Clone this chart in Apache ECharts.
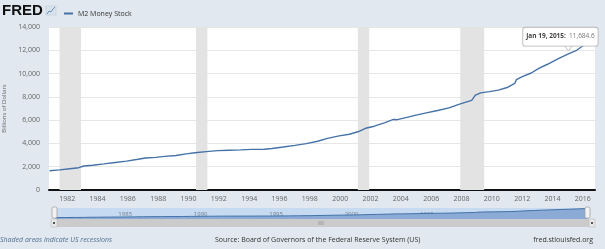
<!DOCTYPE html>
<html>
<head>
<meta charset="utf-8">
<script src="https://cdn.jsdelivr.net/npm/echarts@6/dist/echarts.min.js"></script>
<style>
  html, body { margin: 0; padding: 0; background: #e1e8ef; }
  #chart { width: 605px; height: 249px; }
</style>
</head>
<body>
<div id="chart"></div>
<script>
// M2 money stock, billions of dollars
const dates = [
  '1980-11-03', '1981-07-06', '1982-03-01', '1982-10-04', '1983-02-07', '1983-09-05',
  '1984-06-04', '1985-03-04', '1985-12-02', '1986-09-01', '1987-03-02', '1987-11-02',
  '1988-06-06', '1989-03-06', '1989-11-06', '1990-06-04', '1991-03-04', '1991-12-02',
  '1992-09-07', '1993-06-07', '1994-03-07', '1995-01-02', '1995-07-03', '1996-04-01',
  '1997-01-06', '1997-10-06', '1998-07-06', '1999-03-01', '1999-12-06', '2000-08-07',
  '2001-03-05', '2001-09-03', '2002-04-01', '2002-12-02', '2003-07-07', '2003-10-06',
  '2004-04-05', '2005-01-03', '2005-09-05', '2006-06-05', '2007-03-05', '2007-12-03',
  '2008-09-01', '2008-12-01', '2009-04-06', '2009-11-02', '2010-06-07', '2011-01-03',
  '2011-07-04', '2011-08-15', '2012-01-02', '2012-08-06', '2013-02-04', '2013-09-02',
  '2014-06-02', '2015-01-19', '2015-08-03', '2016-02-01'
]
const values = [
  1655, 1730, 1830, 1915, 2060, 2130,
  2240, 2360, 2480, 2640, 2750, 2800,
  2890, 2960, 3100, 3200, 3300, 3380,
  3420, 3450, 3490, 3500, 3570, 3690,
  3830, 3980, 4190, 4430, 4650, 4790,
  5000, 5300, 5480, 5770, 6060, 6040,
  6200, 6430, 6620, 6830, 7050, 7400,
  7700, 8150, 8340, 8450, 8580, 8800,
  9150, 9480, 9730, 10050, 10450, 10800,
  11300, 11684.6, 12000, 12450
]
const recessions = [
  ['1981-07-01', '1982-11-30'],
  ['1990-07-01', '1991-03-31'],
  ['2001-03-01', '2001-11-30'],
  ['2007-12-01', '2009-06-30']
]
const yearTicks = [1982, 1984, 1986, 1988, 1990, 1992, 1994, 1996, 1998, 2000, 2002, 2004, 2006, 2008, 2010, 2012, 2014, 2016]
const navTicks = [1985, 1990, 1995, 2000, 2005, 2010, 2015]
const tipDate = '2015-01-19'
const tipLabel = 'Jan 19, 2015'

const seriesName = 'M2 Money Stock'
const lineColor = '#4572a7'
const font = 'Open Sans, sans-serif'

function toYear(s) {
  const d = new Date(s + 'T00:00:00Z')
  const y = d.getUTCFullYear()
  const a = Date.UTC(y, 0, 1), b = Date.UTC(y + 1, 0, 1)
  return y + (d.getTime() - a) / (b - a)
}

const points = dates.map((d, i) => [toYear(d), values[i]])
const tipIndex = dates.indexOf(tipDate)

const chart = echarts.init(document.getElementById('chart'), null, { renderer: 'canvas' })

const option = {
  backgroundColor: '#e1e8ef',
  animation: false,
  textStyle: { fontFamily: font },
  legend: {
    data: [seriesName],
    left: 59,
    top: 5,
    itemWidth: 9,
    itemHeight: 2,
    icon: 'rect',
    textStyle: { fontSize: 7, color: '#333', fontFamily: font }
  },
  grid: [
    { left: 49, right: 10, top: 27, bottom: 59, outerBoundsMode: 'none', show: true, backgroundColor: '#fff', borderWidth: 0 },
    { left: 55, right: 16, top: 208, height: 11, outerBoundsMode: 'none', show: true, backgroundColor: '#c6dbf1', borderWidth: 0 }
  ],
  xAxis: [
    {
      type: 'value',
      gridIndex: 0,
      min: 1980.8,
      max: 2016.8,
      axisLine: { show: true, onZero: false, lineStyle: { color: '#111', width: 2 } },
      axisTick: { show: false },
      splitLine: { show: false },
      axisLabel: {
        customValues: yearTicks,
        formatter: v => String(Math.round(v)),
        fontSize: 7,
        color: '#666',
        margin: 5
      }
    },
    {
      type: 'value',
      gridIndex: 1,
      min: 1980.8,
      max: 2016.2,
      axisLine: { show: false },
      axisTick: { show: false },
      splitLine: { show: false },
      axisLabel: {
        customValues: navTicks,
        formatter: v => String(Math.round(v)),
        inside: true,
        align: 'left',
        margin: 2,
        fontSize: 6,
        color: 'rgba(100,110,125,0.85)'
      }
    }
  ],
  yAxis: [
    {
      type: 'value',
      gridIndex: 0,
      min: 0,
      max: 14000,
      interval: 2000,
      name: 'Billions of Dollars',
      nameLocation: 'middle',
      nameGap: 36,
      nameTextStyle: { fontSize: 6, color: '#666' },
      axisLine: { show: false },
      axisTick: { show: false },
      splitLine: { lineStyle: { color: '#e6e6e6', width: 1 } },
      axisLabel: {
        formatter: v => v.toLocaleString('en-US'),
        fontSize: 7,
        color: '#666',
        margin: 9
      }
    },
    {
      type: 'value',
      gridIndex: 1,
      min: 0,
      max: 13000,
      show: false
    }
  ],
  series: [
    {
      name: seriesName,
      type: 'line',
      xAxisIndex: 0,
      yAxisIndex: 0,
      data: points,
      showSymbol: false,
      symbol: 'none',
      color: lineColor,
      lineStyle: { color: lineColor, width: 1.4 },
      markArea: {
        silent: true,
        itemStyle: { color: '#e3e3e3' },
        data: recessions.map(r => [{ xAxis: toYear(r[0]) }, { xAxis: toYear(r[1]) }])
      },
      markPoint: {
        silent: true,
        symbol: 'triangle',
        symbolSize: [9, 6],
        symbolRotate: 180,
        symbolOffset: [0, -6],
        itemStyle: { color: '#fff', borderColor: '#b5b5b5', borderWidth: 0.8 },
        label: {
          show: true,
          position: 'top',
          distance: -1,
          offset: [-8, 0],
          backgroundColor: 'rgba(255,255,255,0.95)',
          borderColor: '#b5b5b5',
          borderWidth: 0.8,
          borderRadius: 2,
          padding: [3, 3, 3, 3],
          formatter: p => '{d|' + tipLabel + ':} {v|' + p.value.toLocaleString('en-US', { minimumFractionDigits: 1 }) + '}',
          rich: {
            d: { fontSize: 6.5, fontWeight: 'bold', color: '#444', fontFamily: font },
            v: { fontSize: 6.5, color: '#777', fontFamily: font }
          }
        },
        data: [{ coord: points[tipIndex], value: values[tipIndex] }]
      },
      z: 3
    },
    {
      name: 'navigator',
      type: 'line',
      xAxisIndex: 1,
      yAxisIndex: 1,
      data: points,
      symbol: 'none',
      silent: true,
      lineStyle: { color: lineColor, width: 1 },
      areaStyle: { color: '#8caad6', opacity: 1 }
    }
  ],
  graphic: [
    // FRED logo and icon
    { type: 'text', left: 2, top: 3, style: { text: 'FRED', font: 'bold 15px "Liberation Sans", sans-serif', fill: '#111' } },
    { type: 'rect', shape: { x: 46, y: 6, width: 10, height: 9 }, style: { fill: '#d9e3ec', stroke: '#b7c4d0', lineWidth: 0.5 } },
    { type: 'polyline', shape: { points: [[47, 14], [49, 11], [51, 12], [53, 9], [55, 7]] }, style: { stroke: '#6b8fbf', lineWidth: 1, fill: null } },
    // navigator handles
    { type: 'rect', shape: { x: 52, y: 207, width: 5, height: 11, r: 1.5 }, style: { fill: '#f2f2f2', stroke: '#9a9a9a', lineWidth: 0.7 }, z: 10 },
    { type: 'rect', shape: { x: 585, y: 207, width: 5, height: 11, r: 1.5 }, style: { fill: '#f2f2f2', stroke: '#9a9a9a', lineWidth: 0.7 }, z: 10 },
    // scrollbar
    { type: 'rect', shape: { x: 51, y: 219, width: 544, height: 8 }, style: { fill: '#cbcbcb' } },
    { type: 'rect', shape: { x: 51, y: 219, width: 6, height: 8 }, style: { fill: '#e8e8e8', stroke: '#b0b0b0', lineWidth: 0.5 } },
    { type: 'rect', shape: { x: 589, y: 219, width: 6, height: 8 }, style: { fill: '#e8e8e8', stroke: '#b0b0b0', lineWidth: 0.5 } },
    { type: 'rect', shape: { x: 53, y: 222, width: 2, height: 2 }, style: { fill: '#555' } },
    { type: 'rect', shape: { x: 591, y: 222, width: 2, height: 2 }, style: { fill: '#555' } },
    { type: 'polyline', shape: { points: [[319, 221], [319, 225]] }, style: { stroke: '#888', lineWidth: 0.6 } },
    { type: 'polyline', shape: { points: [[321, 221], [321, 225]] }, style: { stroke: '#888', lineWidth: 0.6 } },
    { type: 'polyline', shape: { points: [[323, 221], [323, 225]] }, style: { stroke: '#888', lineWidth: 0.6 } },
    // footer
    { type: 'text', left: 0, top: 236, style: { text: 'Shaded areas indicate US recessions', font: 'italic 7px "Open Sans", sans-serif', fill: '#4f6f91' } },
    { type: 'text', left: 215, top: 236, style: { text: 'Source: Board of Governors of the Federal Reserve System (US)', font: '7px "Open Sans", sans-serif', fill: '#333' } },
    { type: 'text', right: 12, top: 236, style: { text: 'fred.stlouisfed.org', font: '7px "Open Sans", sans-serif', fill: '#333' } }
  ]
}

chart.setOption(option)
</script>
</body>
</html>
